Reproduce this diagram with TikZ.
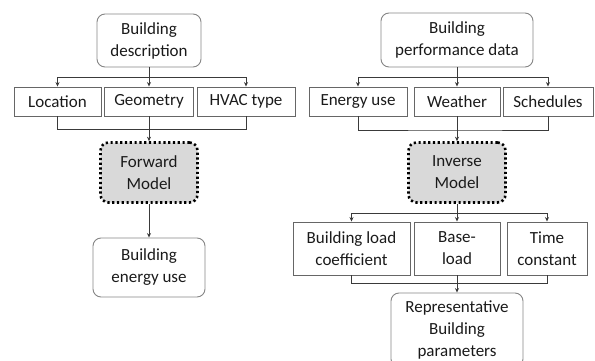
\documentclass[tikz,border=0pt]{standalone}
\usepackage{fontspec}
\setmainfont{Carlito}
\usetikzlibrary{arrows.meta}
\definecolor{txt}{HTML}{1A1A1A}
\definecolor{ln}{HTML}{3A3A3A}
\definecolor{bx}{HTML}{666666}
\definecolor{rb}{HTML}{858585}
\definecolor{mf}{HTML}{D9D9D9}
\begin{document}
\begin{tikzpicture}[x=1pt,y=-1pt,
  every node/.style={text=txt,font=\fontsize{17}{22}\selectfont,align=center,inner sep=0pt},
  rbox/.style={draw=rb,line width=0.9pt,rounded corners=8pt},
  sbox/.style={draw=bx,line width=0.9pt},
  mbox/.style={draw=black,fill=mf,line width=2.6pt,dash pattern=on 2.2pt off 2.6pt,rounded corners=8pt},
  conn/.style={draw=ln,line width=0.8pt},
  arr/.style={conn,-{Stealth[length=4.5pt,width=4pt]}}]
\useasboundingbox (0,0) rectangle (595,361);
\clip (0,0) rectangle (595,361);
% left column
\node[rbox,minimum width=104pt,minimum height=53pt] (desc) at (149,40.5) {Building\\description};
\node[sbox,minimum width=87pt,minimum height=29pt] (loc) at (57.5,101.5) {Location};
\node[sbox,minimum width=89pt,minimum height=29pt] (geo) at (149,101.5) {Geometry};
\node[sbox,minimum width=98pt,minimum height=29pt] (hvac) at (246,101.5) {HVAC type};
\node[mbox,minimum width=97pt,minimum height=60pt] (fwd) at (149,172.5) {Forward\\Model};
\node[rbox,minimum width=112pt,minimum height=59pt] (beu) at (149,267.5) {Building\\energy use};
\coordinate (b1) at (149,77);
\coordinate (j1) at (149,129.5);
\draw[arr] (desc.south) -- (geo.north);
\draw[arr] (b1) -| (loc.north);
\draw[arr] (b1) -| (hvac.north);
\draw[conn] (loc.south) |- (j1) -| (hvac.south);
\draw[arr] (geo.south) -- (fwd.north);
\draw[arr] (fwd.south) -- (beu.north);
% right column
\node[rbox,minimum width=152pt,minimum height=54pt] (bpd) at (457,40) {Building\\performance data};
\node[sbox,minimum width=98pt,minimum height=29pt] (eu) at (358,101.5) {Energy use};
\node[sbox,minimum width=86pt,minimum height=29pt] (we) at (457,101.5) {Weather};
\node[sbox,minimum width=90pt,minimum height=29pt] (sch) at (548,101.5) {Schedules};
\node[mbox,minimum width=97pt,minimum height=60pt] (inv) at (457,172.5) {Inverse\\Model};
\node[sbox,minimum width=117pt,minimum height=53pt] (blc) at (351.5,248.5) {Building load\\coefficient};
\node[sbox,minimum width=86pt,minimum height=53pt] (bl) at (457,248.5) {Base-\\load};
\node[sbox,minimum width=80pt,minimum height=53pt] (tc) at (547,248.5) {Time\\constant};
\node[rbox,minimum width=132pt,minimum height=74pt] (rep) at (457,330) {Representative\\Building\\parameters};
\coordinate (b2) at (457,77);
\coordinate (j2) at (457,130);
\coordinate (b3) at (457,213);
\coordinate (j3) at (457,283.5);
\draw[arr] (bpd.south) -- (we.north);
\draw[arr] (b2) -| (eu.north);
\draw[arr] (b2) -| (sch.north);
\draw[conn] (eu.south) |- (j2) -| (sch.south);
\draw[arr] (we.south) -- (inv.north);
\draw[arr] (inv.south) -- (bl.north);
\draw[arr] (b3) -| (blc.north);
\draw[arr] (b3) -| (tc.north);
\draw[conn] (blc.south) |- (j3) -| (tc.south);
\draw[arr] (bl.south) -- (rep.north);
\end{tikzpicture}
\end{document}
